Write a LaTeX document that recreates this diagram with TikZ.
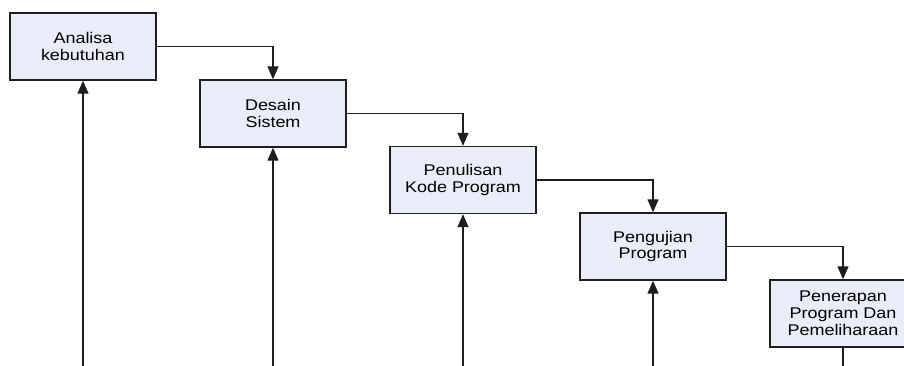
\documentclass[tikz,border=0pt]{standalone}
\usepackage{fontspec}
\setmainfont{Liberation Sans}[FakeStretch=1.16]
\usetikzlibrary{arrows.meta}
\definecolor{boxfill}{RGB}{232,237,247}
\definecolor{edge}{RGB}{30,30,30}

\tikzset{
  tahap/.style={draw=edge, fill=boxfill, line width=1.4pt, rectangle,
    minimum width=146pt, minimum height=67pt, align=center, inner sep=0pt,
    font=\fontsize{15.5}{16.8}\selectfont},
  alur/.style={edge, line width=1.3pt},
  >={Triangle[length=13pt,width=11pt]}
}

\begin{document}
\begin{tikzpicture}[x=1pt,y=1pt]
\useasboundingbox (0,0) rectangle (904,-365);
\clip (0,0) rectangle (904,-365);

\node[tahap] (analisa) at (83,-46.5) {Analisa\\kebutuhan};
\node[tahap] (desain) at (273,-113.5) {Desain\\Sistem};
\node[tahap] (kode) at (463,-180) {Penulisan\\Kode Program};
\node[tahap] (uji) at (653,-246.5) {Pengujian\\Program};
\node[tahap] (terap) at (843,-313.5) {Penerapan\\Program Dan\\Pemeliharaan};

% langkah ke bawah
\draw[alur,->] (analisa.east) -| (desain.north);
\draw[alur,->] (desain.east) -| (kode.north);
\draw[alur,->] (kode.east) -| (uji.north);
\draw[alur,->] (uji.east) -| (terap.north);

% balik dari bawah
\coordinate (b1) at (83,-370);
\coordinate (b2) at (273,-370);
\coordinate (b3) at (463,-370);
\coordinate (b4) at (653,-370);
\coordinate (b5) at (843,-370);
\draw[alur,->] (b1) -- (analisa.south);
\draw[alur,->] (b2) -- (desain.south);
\draw[alur,->] (b3) -- (kode.south);
\draw[alur,->] (b4) -- (uji.south);
\draw[alur] (terap.south) -- (b5);
\end{tikzpicture}
\end{document}
